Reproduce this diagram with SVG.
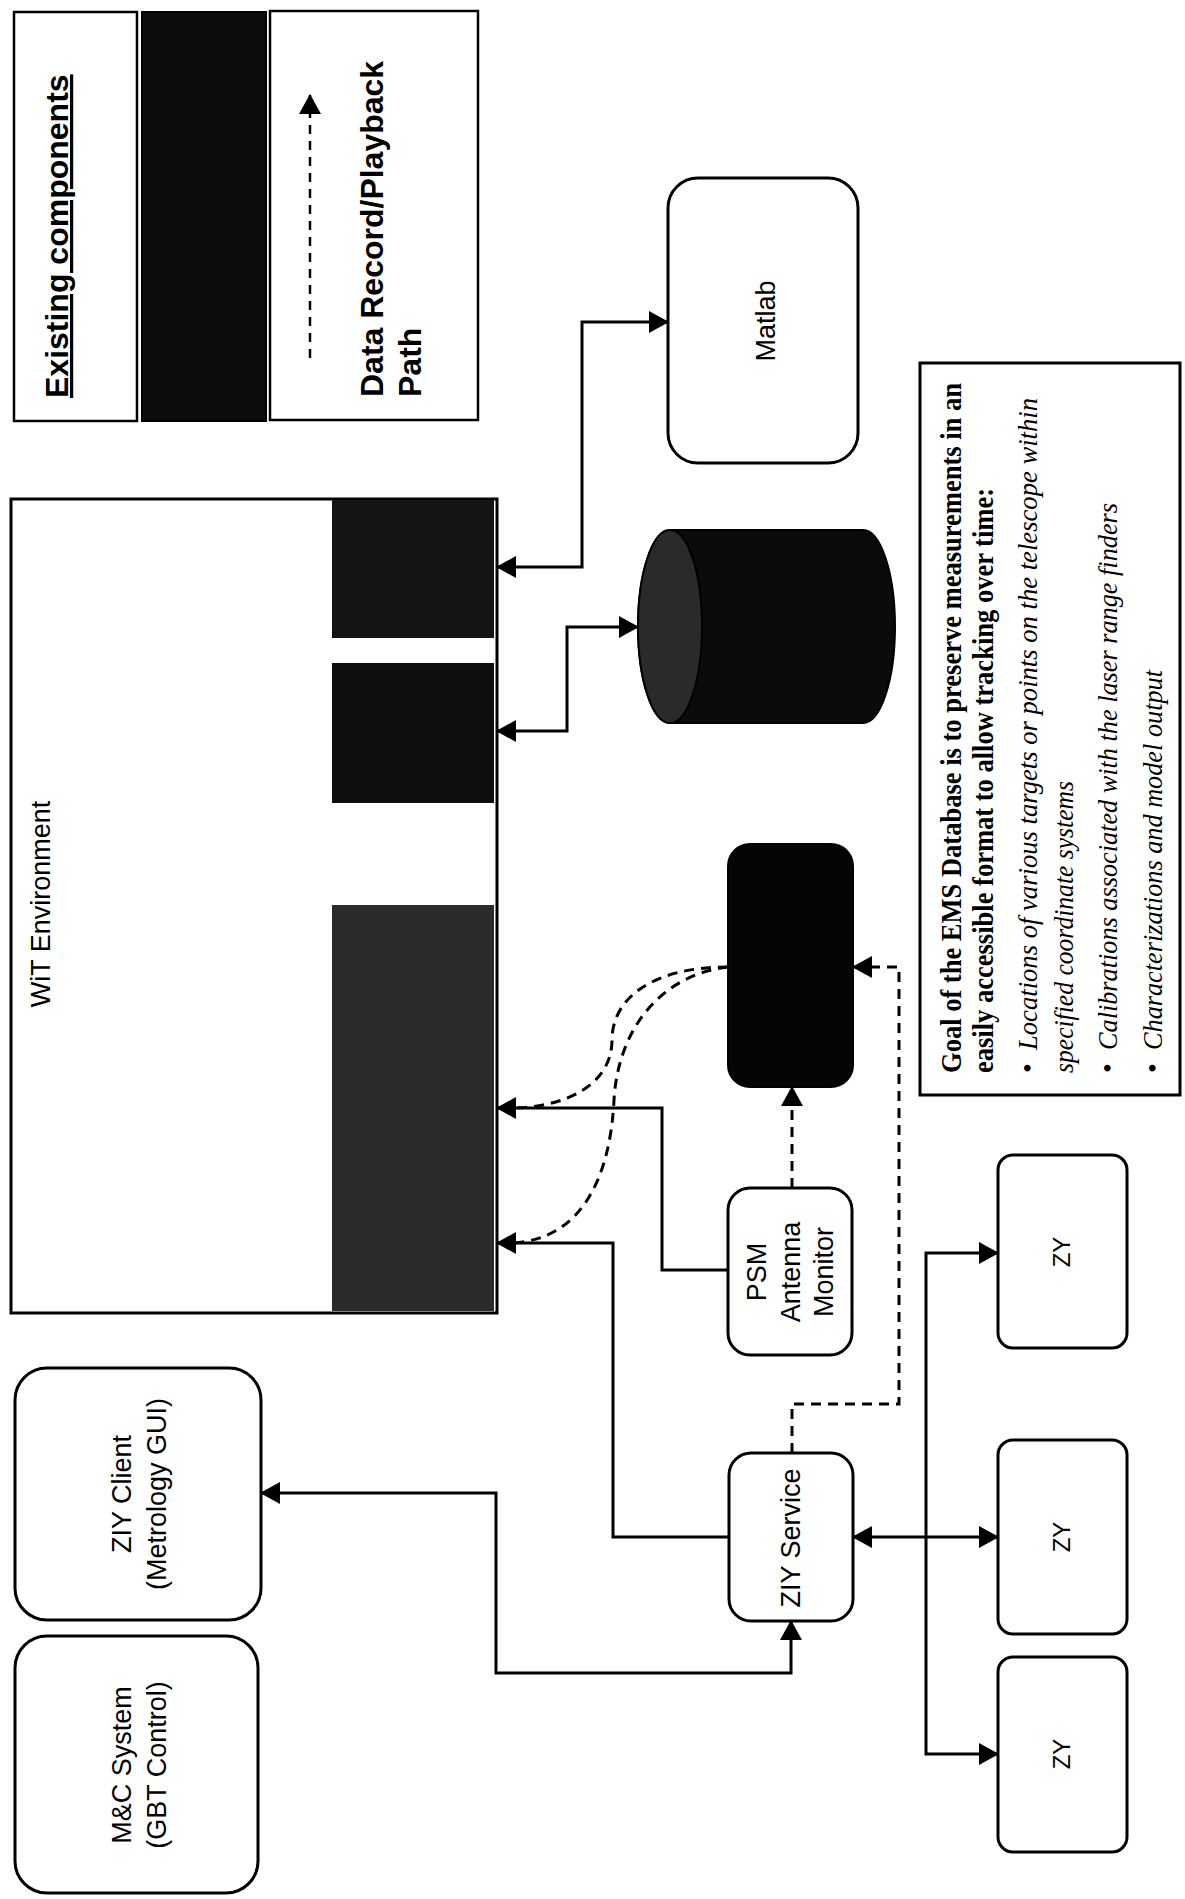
<svg xmlns="http://www.w3.org/2000/svg" width="1185" height="1899" viewBox="0 0 1185 1899">
<defs>
<style>
.box{fill:#fff;stroke:#000;stroke-width:3}
.lbl{font-family:"Liberation Sans",Arial,sans-serif;font-size:27px;fill:#000;text-anchor:middle}
.zy{font-family:"Liberation Sans",Arial,sans-serif;font-size:24px;fill:#000;text-anchor:middle}
.leg{font-family:"Liberation Sans",Arial,sans-serif;font-size:32px;font-weight:bold;fill:#000}
.gb{font-family:"Liberation Serif","Times New Roman",serif;font-size:29px;font-weight:bold;fill:#000}
.gi{font-family:"Liberation Serif","Times New Roman",serif;font-size:28px;font-style:italic;fill:#000}
.bul{font-family:"Liberation Serif","Times New Roman",serif;font-size:28px;fill:#000}
.con{fill:none;stroke:#000;stroke-width:3}
.dash{fill:none;stroke:#000;stroke-width:3;stroke-dasharray:10 7}
</style>
<marker id="arr" viewBox="0 0 20 22" refX="19" refY="11" markerWidth="20" markerHeight="22" markerUnits="userSpaceOnUse" orient="auto-start-reverse">
<path d="M0,0L20,11L0,22Z" fill="#000"/>
</marker>
</defs>
<rect width="1185" height="1899" fill="#fff"/>

<g id="legend-existing">
<rect x="14" y="12" width="123" height="409" fill="#fff" stroke="#000" stroke-width="2.5"/>
<text class="leg" text-decoration="underline" transform="translate(68,398) rotate(-90)">Existing components</text>
</g>
<g id="legend-new">
<rect x="142" y="12" width="124" height="409" fill="#0c0c0c" stroke="#000" stroke-width="2"/>
</g>
<g id="legend-path">
<rect x="270" y="11" width="208" height="409" fill="#fff" stroke="#000" stroke-width="2.5"/>
<path d="M310 358V95" fill="none" stroke="#000" stroke-width="2.5" stroke-dasharray="9 7" marker-end="url(#arr)"/>
<text class="leg" transform="translate(383,397) rotate(-90)">Data Record/Playback</text>
<text class="leg" transform="translate(421,397) rotate(-90)">Path</text>
</g>

<g id="wit">
<rect x="11" y="499" width="486" height="814" class="box"/>
<rect x="332" y="500" width="162" height="138" fill="#141414"/>
<rect x="332" y="663" width="162" height="140" fill="#0e0e0e"/>
<rect x="332" y="905" width="162" height="406" fill="#2b2b2b"/>
<text class="lbl" font-size="27" transform="translate(50,904) rotate(-90)">WiT Environment</text>
</g>

<g id="matlab">
<rect x="668" y="178" width="190" height="285" rx="30" class="box"/>
<text class="lbl" transform="translate(775,321) rotate(-90)" font-size="26">Matlab</text>
</g>

<g id="database">
<path d="M670 530H863A32 96.5 0 0 1 863 723H670A32 96.5 0 0 1 670 530Z" fill="#0b0b0b" stroke="#000" stroke-width="2"/>
<ellipse cx="670" cy="626.5" rx="32" ry="96.5" fill="#2a2a2a" stroke="#000" stroke-width="2"/>
</g>

<g id="archive">
<rect x="728" y="844" width="125" height="243" rx="22" fill="#050505" stroke="#000" stroke-width="2"/>
</g>

<g id="psm">
<rect x="728" y="1188" width="124" height="167" rx="22" class="box"/>
<text class="lbl" font-size="26" transform="translate(766,1272) rotate(-90)">PSM</text>
<text class="lbl" font-size="26" transform="translate(800,1272) rotate(-90)">Antenna</text>
<text class="lbl" font-size="26" transform="translate(833,1272) rotate(-90)">Monitor</text>
</g>

<g id="ziy-service">
<rect x="729" y="1453" width="124" height="168" rx="22" class="box"/>
<text class="lbl" transform="translate(800,1538) rotate(-90)">ZIY Service</text>
</g>

<g id="ziy-client">
<rect x="15" y="1368" width="246" height="252" rx="32" class="box"/>
<text class="lbl" transform="translate(131,1494) rotate(-90)">ZIY Client</text>
<text class="lbl" transform="translate(166,1494) rotate(-90)">(Metrology GUI)</text>
</g>

<g id="mc-system">
<rect x="15" y="1636" width="243" height="257" rx="32" class="box"/>
<text class="lbl" transform="translate(131,1765) rotate(-90)">M&amp;C System</text>
<text class="lbl" transform="translate(166,1765) rotate(-90)">(GBT Control)</text>
</g>

<g id="zy-1">
<rect x="998" y="1155" width="129" height="193" rx="15" class="box"/>
<text class="zy" transform="translate(1070,1252) rotate(-90)">ZY</text>
</g>
<g id="zy-2">
<rect x="998" y="1440" width="129" height="194" rx="15" class="box"/>
<text class="zy" transform="translate(1070,1537) rotate(-90)">ZY</text>
</g>
<g id="zy-3">
<rect x="998" y="1657" width="129" height="195" rx="15" class="box"/>
<text class="zy" transform="translate(1070,1754) rotate(-90)">ZY</text>
</g>

<g id="goal-note">
<rect x="920" y="363" width="260" height="732" fill="#fff" stroke="#000" stroke-width="3"/>
<text class="gb" transform="translate(961,1073) rotate(-90)" textLength="690" lengthAdjust="spacingAndGlyphs">Goal of the EMS Database is to preserve measurements in an</text>
<text class="gb" transform="translate(993,1073) rotate(-90)" textLength="585" lengthAdjust="spacingAndGlyphs">easily accessible format to allow tracking over time:</text>
<text class="bul" transform="translate(1037,1073) rotate(-90)">•</text>
<text class="gi" transform="translate(1037,1050) rotate(-90)" textLength="652" lengthAdjust="spacingAndGlyphs">Locations of various targets or points on the telescope within</text>
<text class="gi" transform="translate(1073,1073) rotate(-90)" textLength="292" lengthAdjust="spacingAndGlyphs">specified coordinate systems</text>
<text class="bul" transform="translate(1117,1073) rotate(-90)">•</text>
<text class="gi" transform="translate(1117,1050) rotate(-90)" textLength="547" lengthAdjust="spacingAndGlyphs">Calibrations associated with the laser range finders</text>
<text class="bul" transform="translate(1162,1073) rotate(-90)">•</text>
<text class="gi" transform="translate(1162,1050) rotate(-90)" textLength="380" lengthAdjust="spacingAndGlyphs">Characterizations and model output</text>
</g>

<g id="connectors">
<path class="con" d="M497 567H582V322H668" marker-start="url(#arr)" marker-end="url(#arr)"/>
<path class="con" d="M497 731H567V627H638" marker-start="url(#arr)" marker-end="url(#arr)"/>
<path class="con" d="M728 1270H662V1108H497" marker-end="url(#arr)"/>
<path class="con" d="M729 1537H613V1243H497" marker-end="url(#arr)"/>
<path class="con" d="M261 1493H496V1673H791V1621" marker-start="url(#arr)" marker-end="url(#arr)"/>
<path class="con" d="M853 1537H998" marker-start="url(#arr)" marker-end="url(#arr)"/>
<path class="con" d="M998 1253H926V1754H998" marker-start="url(#arr)" marker-end="url(#arr)"/>
<path class="dash" d="M792 1188V1087" marker-end="url(#arr)"/>
<path class="dash" d="M792 1453V1404H899V967H853" marker-end="url(#arr)"/>
<path class="dash" d="M728 967C650 967 612 1000 612 1040C612 1085 565 1108 510 1108"/>
<path class="dash" d="M728 967C660 975 618 1030 614 1100C610 1180 580 1241 510 1243"/>
</g>
</svg>
